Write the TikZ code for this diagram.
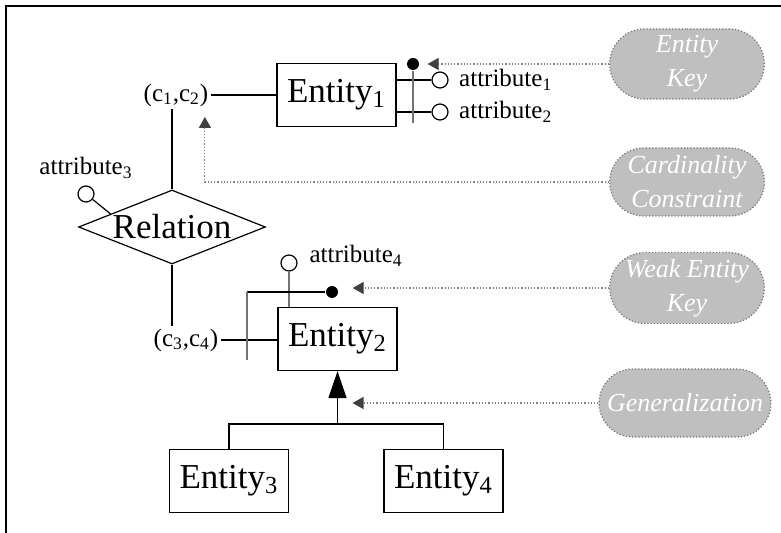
\documentclass[tikz,border=0pt]{standalone}
\usepackage{fontspec}
\setmainfont{Liberation Serif}
\usetikzlibrary{shapes.geometric}
\usetikzlibrary{shapes.misc}
\usetikzlibrary{arrows.meta}
\usetikzlibrary{positioning}
\definecolor{notegray}{rgb}{0.75,0.75,0.75}
\definecolor{keygray}{rgb}{0.45,0.45,0.45}
\definecolor{tipgray}{rgb}{0.25,0.25,0.25}

\tikzset{
  bigfont/.style={font=\fontsize{17.5}{21}\selectfont},
  smallfont/.style={font=\fontsize{12.5}{15}\selectfont},
  entity/.style={draw, bigfont, minimum width=59.5pt, minimum height=31.5pt, inner sep=0pt},
  relation/.style={draw, diamond, minimum width=93.5pt, minimum height=37pt, inner sep=0pt},
  attr/.style={draw, circle, fill=white, minimum size=8pt, inner sep=0pt},
  attrlabel/.style={smallfont, inner sep=1pt},
  keydot/.style={circle, fill=black, minimum size=6pt, inner sep=0pt},
  keyline/.style={draw=keygray, line width=0.9pt},
  notebox/.style={rounded rectangle, draw=keygray, densely dotted, fill=notegray, text=white,
    font=\itshape\fontsize{13}{17}\selectfont, minimum width=84pt, minimum height=34pt, align=center},
  noteline/.style={draw=gray, densely dotted, -{Triangle[length=5.5pt, width=6pt, color=tipgray]}}
}

\begin{document}
\begin{tikzpicture}[x=0.5pt, y=-0.5pt, line width=0.6pt]
  \useasboundingbox (0,0) rectangle (781,533);
  \draw[line width=1pt] (5.5,533) -- (5.5,6) -- (781,6);

  % entities and relation
  \node[entity] (e1) at (336.5,95) {Entity\textsubscript{1}};
  \node[entity] (e2) at (337.5,339) {Entity\textsubscript{2}};
  \node[entity] (e3) at (229,481) {Entity\textsubscript{3}};
  \node[entity] (e4) at (443.5,481) {Entity\textsubscript{4}};
  \node[relation, label={[bigfont]center:Relation}] (rel) at (172,227) {};

  % cardinalities
  \node[attrlabel] (c12) at (176,95) {(c\textsubscript{1},c\textsubscript{2})};
  \node[attrlabel] (c34) at (186,340) {(c\textsubscript{3},c\textsubscript{4})};
  \draw (c12) -- (e1);
  \draw (c34.east) -- (c34.east -| e2.west);
  \draw (rel.north) -- (rel.north |- c12.south);
  \draw (rel.south) -- (rel.south |- c34.north);

  % attributes
  \node[attr] (a1c) at (440,80) {};
  \node[attr] (a2c) at (440,112) {};
  \node[attr] (a3c) at (86,194) {};
  \node[attr] (a4c) at (289,263) {};
  \node[attrlabel, right=4pt of a1c] (a1) {attribute\textsubscript{1}};
  \node[attrlabel, right=4pt of a2c] (a2) {attribute\textsubscript{2}};
  \node[attrlabel] (a3) at (86,168) {attribute\textsubscript{3}};
  \node[attrlabel, anchor=west] (a4) at (307,256) {attribute\textsubscript{4}};
  \draw (e1.east |- a1c) -- (a1c);
  \draw (e1.east |- a2c) -- (a2c);
  \draw (a3c) -- (rel.168);
  \draw[keyline] (a4c) -- (a4c |- e2.north);

  % keys
  \node[keydot] (k1) at (413,64) {};
  \node[keydot] (k2) at (332,292) {};
  \coordinate (k1end) at (413,123);
  \coordinate (k2end) at (247,360);
  \draw[keyline] (k1) -- (k1end);
  \draw (k2) -- (k2 -| k2end);
  \draw[keyline] (k2 -| k2end) -- (k2end);

  % generalization
  \coordinate[below=26.5pt of e2.south] (gen);
  \draw[-{Triangle[length=13.5pt, width=9pt]}] (gen) -- (e2.south);
  \draw (e3.north) |- (gen) -| (e4.north);

  % notes
  \node[notebox] (n1) at (687,64) {Entity\\Key};
  \node[notebox] (n2) at (687,182) {Cardinality\\Constraint};
  \node[notebox] (n3) at (687,288) {Weak Entity\\Key};
  \node[notebox] (n4) at (685,403) {Generalization};
  \draw[noteline, shorten >=4pt] (n1.west) -- (n1.west -| k1.east);
  \draw[noteline] (n2.west) -| ([xshift=-3pt, yshift=-4pt]c12.south east);
  \draw[noteline, shorten >=7pt] (n3.west) -- (n3.west -| k2.east);
  \draw[noteline, shorten >=7.5pt] (n4.west) -- (n4.west -| gen);
\end{tikzpicture}
\end{document}
